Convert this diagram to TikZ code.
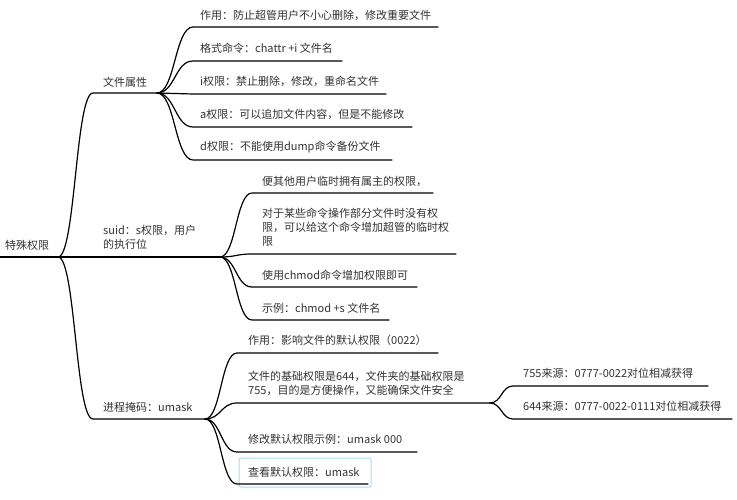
\documentclass[tikz,border=0pt]{standalone}
\usepackage{fontspec}
\setmainfont{Noto Sans CJK SC}
\definecolor{txt}{HTML}{333333}
\definecolor{selblue}{HTML}{A8DCF2}
\tikzset{
  edge/.style={draw=black, line width=1.2pt, line cap=round},
  lbl/.style={inner sep=0pt, anchor=west, align=left, text=txt, font=\fontsize{11}{15}\selectfont},
}
\newcommand\mmb[4]{\draw[edge] (#1) .. controls +(#4,0) and +(-#4,0) .. (#2) -- (#3);}
\begin{document}
\begin{tikzpicture}[x=1pt,y=-1pt]
\useasboundingbox (0,0) rectangle (737,500);
\fill[white] (0,0) rectangle (737,500);

% ---- root
\node[lbl] (root) at (5,245) {特殊权限};
\coordinate (r0) at (0,257);
\coordinate (r) at (58,257);
\draw[edge] (r0) -- (r);

% ---- level 1
\node[lbl] (fa) at (103,82) {文件属性};
\coordinate (fas) at (93,93); \coordinate (fae) at (157,93);
\mmb{r}{fas}{fae}{17.5}

\node[lbl] (su) at (103,237.5) {suid：s权限，用户\\[-1pt]的执行位};
\coordinate (sue) at (220,257);
\draw[edge] (r) -- (sue);

\node[lbl] (um) at (103,407) {进程掩码：umask};
\coordinate (ums) at (93,419); \coordinate (ume) at (205,419);
\mmb{r}{ums}{ume}{17.5}

% ---- 文件属性 children
\node[lbl] (fa1) at (200,15) {作用：防止超管用户不小心删除，修改重要文件};
\coordinate (fa1s) at (193,27); \coordinate (fa1e) at (438,27);
\mmb{fae}{fa1s}{fa1e}{18}
\node[lbl] (fa2) at (200,48) {格式命令：chattr +i 文件名};
\coordinate (fa2s) at (193,61); \coordinate (fa2e) at (342,61);
\mmb{fae}{fa2s}{fa2e}{18}
\node[lbl] (fa3) at (200,81) {i权限：禁止删除，修改，重命名文件};
\coordinate (fa3s) at (193,94); \coordinate (fa3e) at (386,94);
\mmb{fae}{fa3s}{fa3e}{18}
\node[lbl] (fa4) at (200,114) {a权限：可以追加文件内容，但是不能修改};
\coordinate (fa4s) at (193,127); \coordinate (fa4e) at (412,127);
\mmb{fae}{fa4s}{fa4e}{18}
\node[lbl] (fa5) at (200,147) {d权限：不能使用dump命令备份文件};
\coordinate (fa5s) at (193,160); \coordinate (fa5e) at (392,160);
\mmb{fae}{fa5s}{fa5e}{18}

% ---- suid children
\node[lbl] (su1) at (262,181) {便其他用户临时拥有属主的权限，};
\coordinate (su1s) at (252,193); \coordinate (su1e) at (433,193);
\mmb{sue}{su1s}{su1e}{16}
\node[lbl] (su2) at (262,227.5) {对于某些命令操作部分文件时没有权\\[-1pt]限，可以给这个命令增加超管的临时权\\[-1pt]限};
\coordinate (su2s) at (252,254); \coordinate (su2e) at (456,254);
\mmb{sue}{su2s}{su2e}{16}
\node[lbl] (su3) at (262,275) {使用chmod命令增加权限即可};
\coordinate (su3s) at (252,287); \coordinate (su3e) at (417,287);
\mmb{sue}{su3s}{su3e}{16}
\node[lbl] (su4) at (262,308) {示例：chmod +s 文件名};
\coordinate (su4s) at (252,320); \coordinate (su4e) at (389,320);
\mmb{sue}{su4s}{su4e}{16}

% ---- umask children
\node[lbl] (um1) at (248,340) {作用：影响文件的默认权限（0022）};
\coordinate (um1s) at (237,353); \coordinate (um1e) at (438,353);
\mmb{ume}{um1s}{um1e}{16}
\node[lbl] (um2) at (248,383.5) {文件的基础权限是644，文件夹的基础权限是\\[-1pt]755，目的是方便操作，又能确保文件安全};
\coordinate (um2s) at (237,403); \coordinate (um2e) at (490,403);
\mmb{ume}{um2s}{um2e}{16}
\node[lbl] (um3) at (248,439) {修改默认权限示例：umask 000};
\coordinate (um3s) at (237,452); \coordinate (um3e) at (417,452);
\mmb{ume}{um3s}{um3e}{16}
\draw[selblue, line width=1pt, rounded corners=2pt] (239,458) rectangle (371,487);
\node[lbl] (um4) at (248,472) {查看默认权限：umask};
\coordinate (um4s) at (237,484); \coordinate (um4e) at (368,484);
\mmb{ume}{um4s}{um4e}{16}

% ---- level 3
\node[lbl] (l31) at (523,373) {755来源：0777-0022对位相减获得};
\coordinate (l31s) at (513,386); \coordinate (l31e) at (708,386);
\mmb{um2e}{l31s}{l31e}{11.5}
\node[lbl] (l32) at (523,406) {644来源：0777-0022-0111对位相减获得};
\coordinate (l32s) at (513,419); \coordinate (l32e) at (732,419);
\mmb{um2e}{l32s}{l32e}{11.5}
\end{tikzpicture}
\end{document}
